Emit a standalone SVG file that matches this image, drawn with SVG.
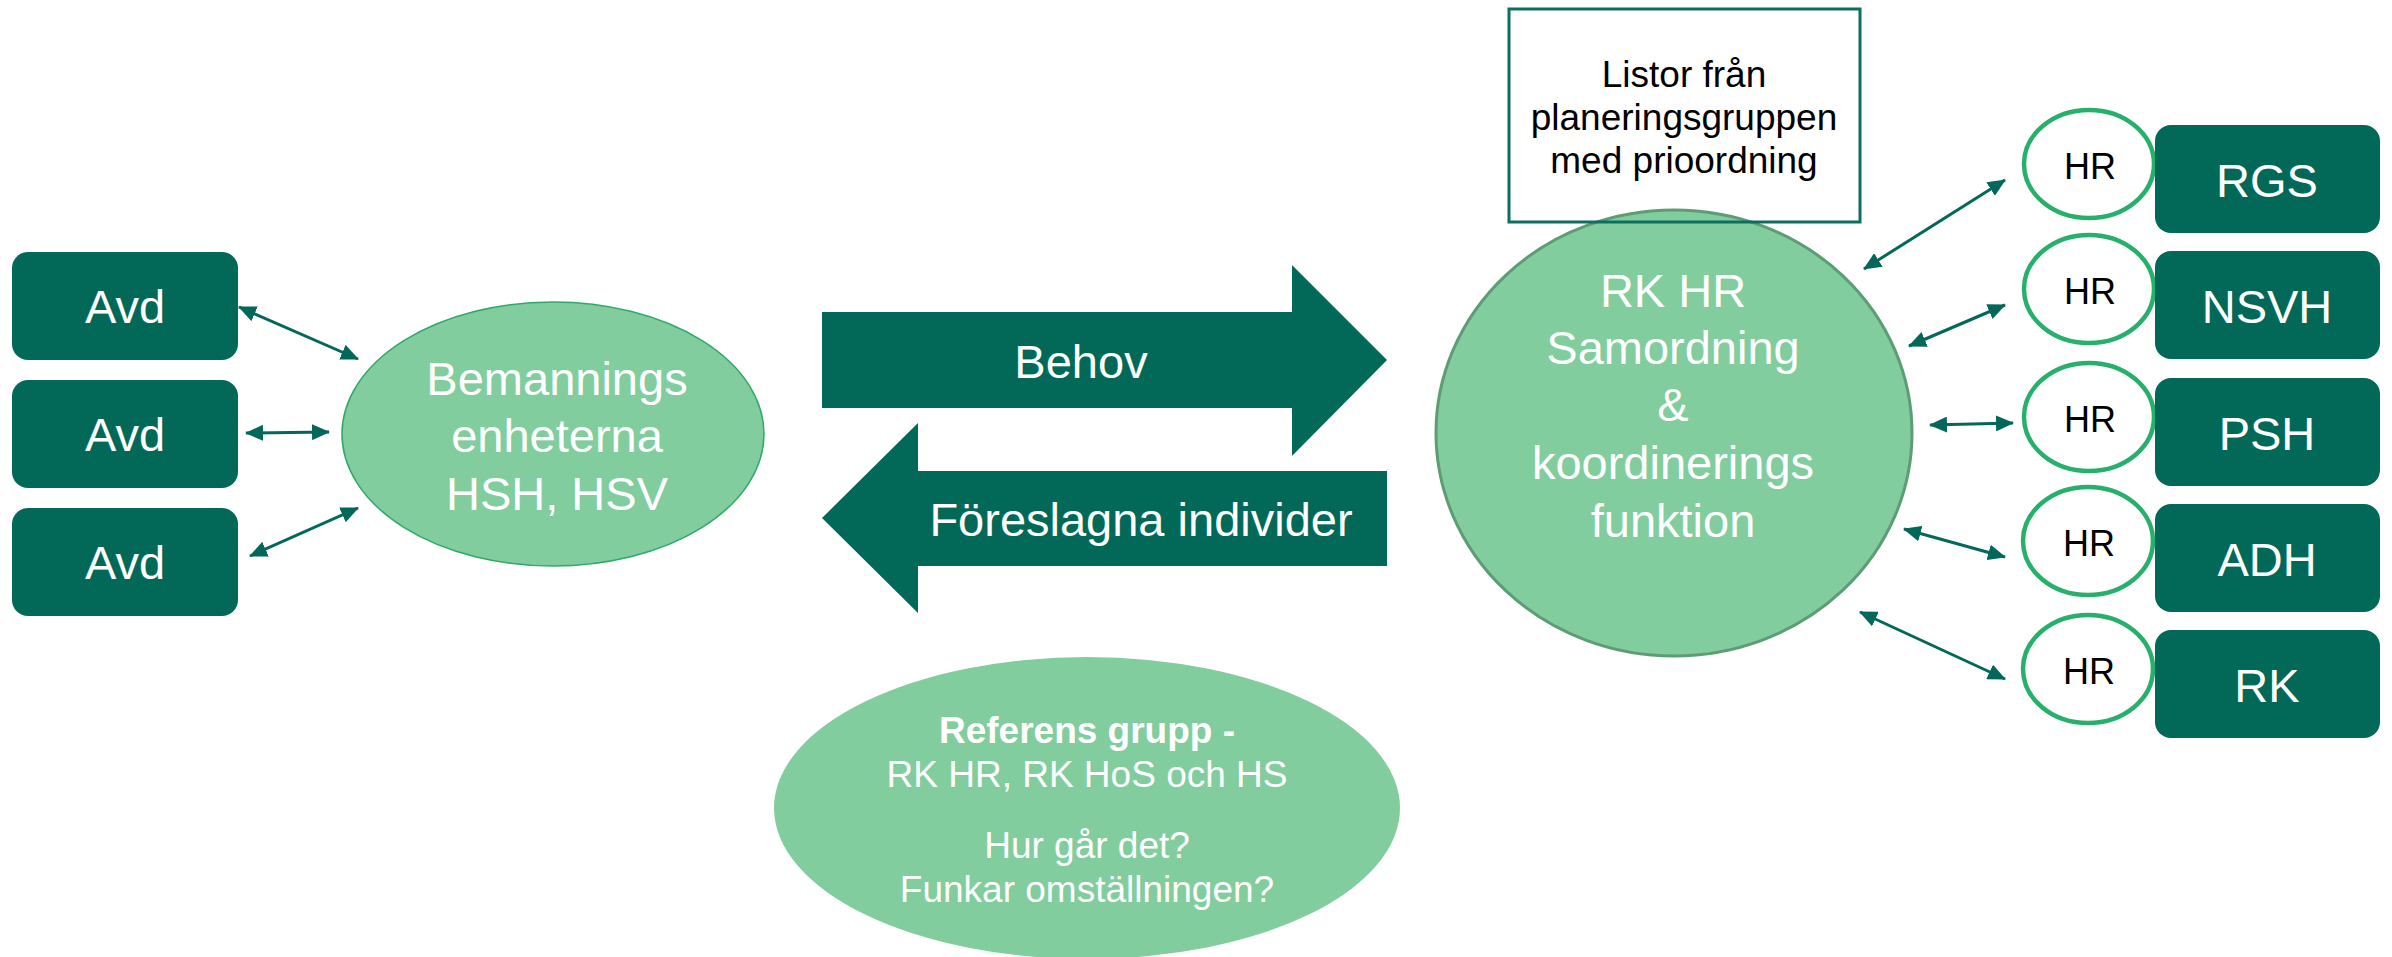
<svg xmlns="http://www.w3.org/2000/svg" width="2392" height="957" viewBox="0 0 2392 957">
<defs>
<marker id="ah" viewBox="0 0 18 16" refX="17" refY="8" markerWidth="18" markerHeight="16" markerUnits="userSpaceOnUse" orient="auto-start-reverse"><path d="M0,0 L18,8 L0,16 Z" fill="#03685a"/></marker>
</defs>
<style>
.box{fill:#026958}
.wt{font-family:"Liberation Sans",Arial,sans-serif;fill:#ffffff;font-size:47px;text-anchor:middle}
.bt{font-family:"Liberation Sans",Arial,sans-serif;fill:#000000;text-anchor:middle}
.conn{stroke:#03685a;stroke-width:3;fill:none;marker-start:url(#ah);marker-end:url(#ah)}
.hr{fill:#ffffff;stroke:#27b06b;stroke-width:4.5}
.lg{fill:#82cd9e}
.big{fill:#026958}
</style>
<rect x="0" y="0" width="2392" height="957" fill="#ffffff"/>

<g id="avd1"><rect class="box" x="12" y="252" width="226" height="108" rx="16"/><text class="wt" x="125" y="323">Avd</text></g>
<g id="avd2"><rect class="box" x="12" y="380" width="226" height="108" rx="16"/><text class="wt" x="125" y="451">Avd</text></g>
<g id="avd3"><rect class="box" x="12" y="508" width="226" height="108" rx="16"/><text class="wt" x="125" y="579">Avd</text></g>

<g id="bemanning">
<ellipse class="lg" cx="553" cy="434" rx="211" ry="132" stroke="#2ea96a" stroke-width="1.5"/>
<text class="wt" x="557" y="395">Bemannings</text>
<text class="wt" x="557" y="452">enheterna</text>
<text class="wt" x="557" y="510">HSH, HSV</text>
</g>

<g id="behov">
<path class="big" d="M822,312 H1292 V265 L1387,360 L1292,456 V408 H822 Z"/>
<text class="wt" x="1081" y="378">Behov</text>
</g>

<g id="foreslagna">
<path class="big" d="M1387,471 H918 V423 L822,518 L918,613 V566 H1387 Z"/>
<text class="wt" x="1141" y="536">Föreslagna individer</text>
</g>

<g id="rkhr">
<ellipse class="lg" cx="1674" cy="433" rx="238" ry="223" stroke="#5e9c76" stroke-width="3"/>
<text class="wt" x="1673" y="307">RK HR</text>
<text class="wt" x="1673" y="364">Samordning</text>
<text class="wt" x="1673" y="421">&amp;</text>
<text class="wt" x="1673" y="479">koordinerings</text>
<text class="wt" x="1673" y="537">funktion</text>
</g>

<g id="listor">
<rect x="1509" y="9" width="351" height="213" fill="none" stroke="#0c6e5e" stroke-width="3"/>
<text class="bt" font-size="37" x="1684" y="87">Listor från</text>
<text class="bt" font-size="37" x="1684" y="130">planeringsgruppen</text>
<text class="bt" font-size="37" x="1684" y="173">med prioordning</text>
</g>

<g id="hr1"><ellipse class="hr" cx="2089" cy="164" rx="65" ry="54"/><text class="bt" font-size="36" x="2090" y="179">HR</text></g>
<g id="hr2"><ellipse class="hr" cx="2089" cy="289" rx="65" ry="54"/><text class="bt" font-size="36" x="2090" y="304">HR</text></g>
<g id="hr3"><ellipse class="hr" cx="2089" cy="417" rx="65" ry="54"/><text class="bt" font-size="36" x="2090" y="432">HR</text></g>
<g id="hr4"><ellipse class="hr" cx="2088" cy="541" rx="65" ry="54"/><text class="bt" font-size="36" x="2089" y="556">HR</text></g>
<g id="hr5"><ellipse class="hr" cx="2088" cy="669" rx="65" ry="54"/><text class="bt" font-size="36" x="2089" y="684">HR</text></g>

<g id="rgs"><rect class="box" x="2155" y="125" width="225" height="108" rx="16"/><text class="wt" x="2267" y="197">RGS</text></g>
<g id="nsvh"><rect class="box" x="2155" y="251" width="225" height="108" rx="16"/><text class="wt" x="2267" y="323">NSVH</text></g>
<g id="psh"><rect class="box" x="2155" y="378" width="225" height="108" rx="16"/><text class="wt" x="2267" y="450">PSH</text></g>
<g id="adh"><rect class="box" x="2155" y="504" width="225" height="108" rx="16"/><text class="wt" x="2267" y="576">ADH</text></g>
<g id="rk"><rect class="box" x="2155" y="630" width="225" height="108" rx="16"/><text class="wt" x="2267" y="702">RK</text></g>

<g id="referens">
<ellipse class="lg" cx="1087" cy="808" rx="313" ry="151"/>
<text class="wt" font-size="37" font-weight="bold" x="1087" y="743" style="font-size:37px">Referens grupp -</text>
<text class="wt" x="1087" y="787" style="font-size:37px">RK HR, RK HoS och HS</text>
<text class="wt" x="1087" y="858" style="font-size:37px">Hur går det?</text>
<text class="wt" x="1087" y="902" style="font-size:37px">Funkar omställningen?</text>
</g>

<g id="connectors">
<line class="conn" x1="239" y1="307" x2="358" y2="359"/>
<line class="conn" x1="246" y1="433" x2="329" y2="432"/>
<line class="conn" x1="250" y1="556" x2="358" y2="508"/>
<line class="conn" x1="1864" y1="269" x2="2005" y2="180"/>
<line class="conn" x1="1909" y1="346" x2="2005" y2="305"/>
<line class="conn" x1="1930" y1="425" x2="2013" y2="423"/>
<line class="conn" x1="1904" y1="529" x2="2005" y2="557"/>
<line class="conn" x1="1860" y1="612" x2="2005" y2="679"/>
</g>
</svg>
